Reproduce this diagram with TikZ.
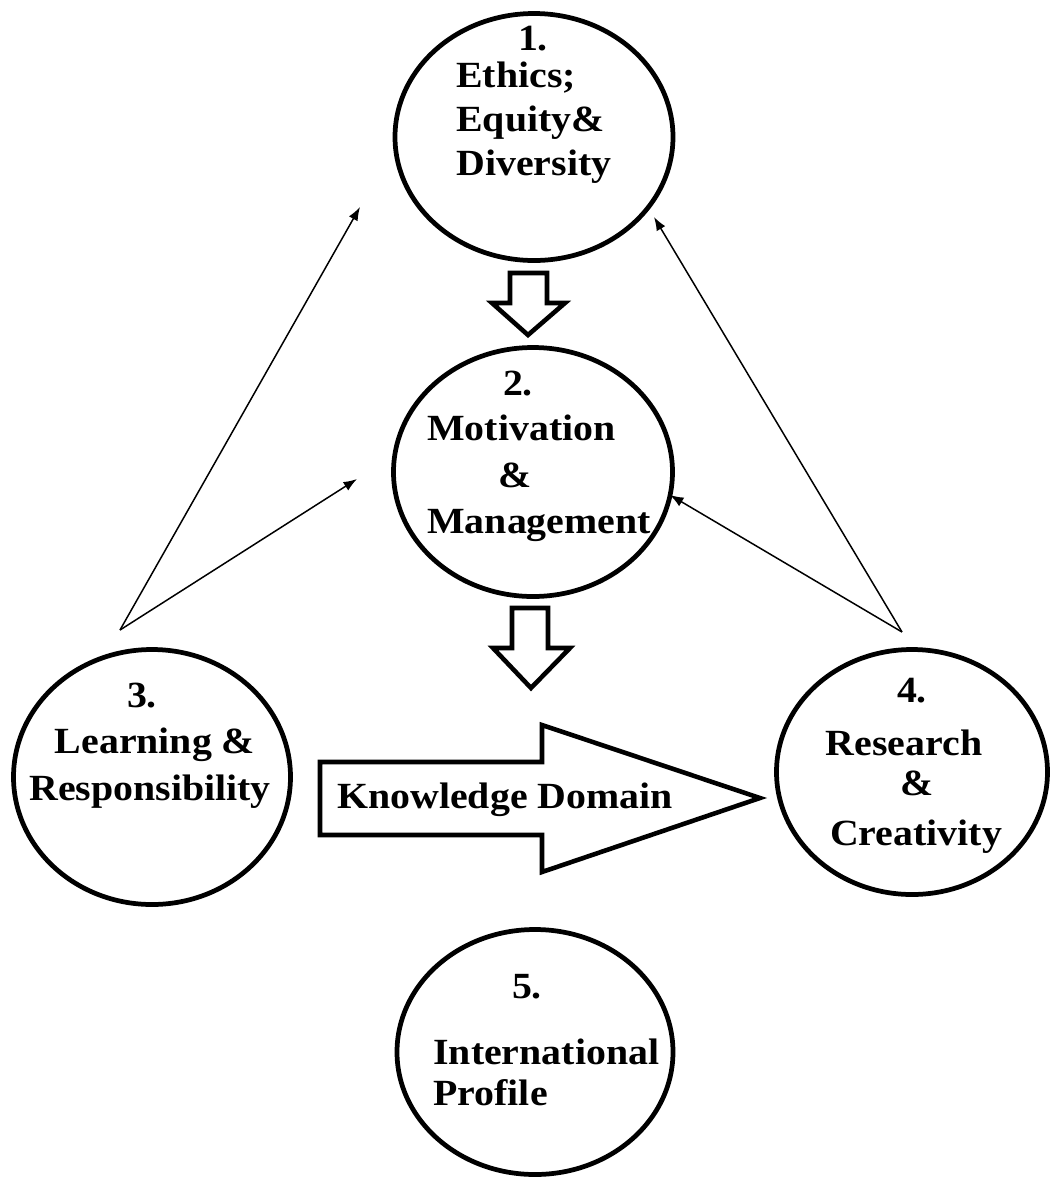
\documentclass[tikz,border=0pt]{standalone}
\usepackage{fontspec}
\setmainfont{Liberation Serif}[FakeStretch=1.08]
\usetikzlibrary{shapes.geometric,arrows.meta}
\begin{document}
\begin{tikzpicture}[x=0.02cm,y=-0.02cm,
  bubble/.style={draw,ellipse,line width=2.7pt,inner sep=0pt},
  label/.style={inner sep=0pt,font=\fontsize{21}{24}\selectfont\bfseries},
  hollow/.style={draw,line width=2.6pt,fill=white,line join=miter},
  thin/.style={line width=0.85pt,-{Latex[length=0.27cm,width=0.2cm]}}]
\useasboundingbox (0,0) rectangle (1050,1178);

% the five topic bubbles
\node[bubble,minimum width=278*0.02cm,minimum height=247*0.02cm] (c1) at (534,137) {};
\node[bubble,minimum width=279*0.02cm,minimum height=249*0.02cm] (c2) at (533,472) {};
\node[bubble,minimum width=277*0.02cm,minimum height=255*0.02cm] (c3) at (152,777) {};
\node[bubble,minimum width=271*0.02cm,minimum height=245*0.02cm] (c4) at (912,772) {};
\node[bubble,minimum width=276*0.02cm,minimum height=245*0.02cm] (c5) at (535,1052) {};

% bubble texts
\node[label,anchor=base] (t1n) at (533,50) {1.};
\node[label,anchor=base west] (t1a) at (456,87) {Ethics;};
\node[label,anchor=base west] (t1b) at (456,131) {Equity\&};
\node[label,anchor=base west] (t1c) at (456,175) {Diversity};

\node[label,anchor=base] (t2n) at (518,395) {2.};
\node[label,anchor=base west] (t2a) at (427,440) {Motivation};
\node[label,anchor=base west] (t2b) at (498,487) {\&};
\node[label,anchor=base west] (t2c) at (427,533) {Management};

\node[label,anchor=base] (t3n) at (142,707) {3.};
\node[label,anchor=base] (t3a) at (155,753) {Learning \&};
\node[label,anchor=base] (t3b) at (150,800) {Responsibility};

\node[label,anchor=base] (t4n) at (912,702) {4.};
\node[label,anchor=base] (t4a) at (904,755) {Research};
\node[label,anchor=base] (t4b) at (917,795) {\&};
\node[label,anchor=base] (t4c) at (916,845) {Creativity};

\node[label,anchor=base] (t5n) at (527,998) {5.};
\node[label,anchor=base west] (t5a) at (433,1064) {International};
\node[label,anchor=base west] (t5b) at (433,1105) {Profile};

% hollow block arrows
\draw[hollow] (510,273) -- (547,273) -- (547,303) -- (565,303) -- (528,335)
  -- (492,303) -- (510,303) -- cycle;
\draw[hollow] (512,608) -- (548,608) -- (548,648) -- (570,648) -- (531,688)
  -- (493,648) -- (512,648) -- cycle;
\draw[hollow] (320,762) -- (542,762) -- (542,725) -- (760,798) -- (542,872)
  -- (542,835) -- (320,835) -- cycle;
\node[label,anchor=base west] (kd) at (337,808) {Knowledge Domain};

% thin feedback arrows
\coordinate (p3) at (120,630);
\coordinate (p4) at (902,632);
\coordinate (a31) at (360,207);
\coordinate (a32) at (357,479);
\coordinate (a41) at (654,217);
\coordinate (a42) at (670,495);
\draw[thin] (p3) -- (a31);
\draw[thin] (p3) -- (a32);
\draw[thin] (p4) -- (a41);
\draw[thin] (p4) -- (a42);
\end{tikzpicture}
\end{document}
